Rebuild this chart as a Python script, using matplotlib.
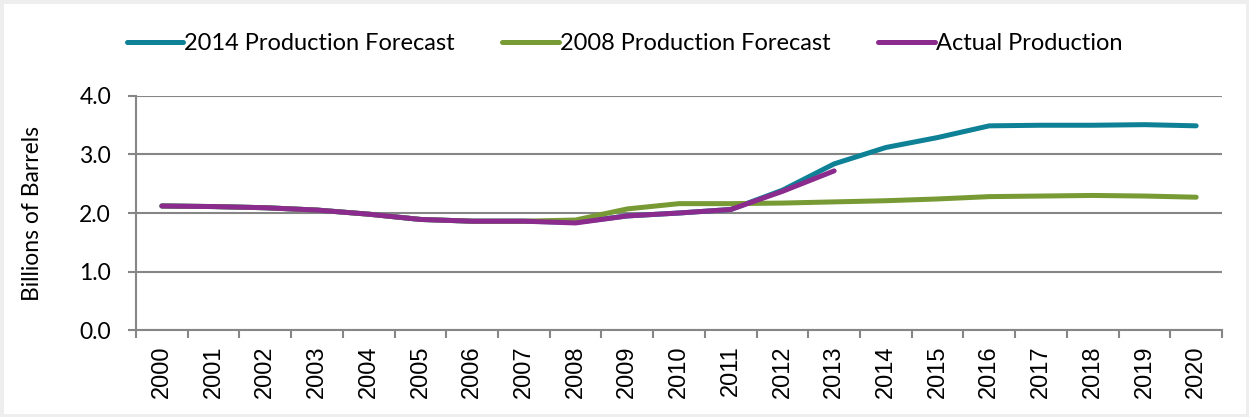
import matplotlib.pyplot as plt
import numpy as np

plt.rcParams['font.family'] = ['Lato', 'DejaVu Sans']

years = [str(y) for y in range(2000, 2021)]
forecast_2014 = [2.12, 2.11, 2.09, 2.05, 1.98, 1.89, 1.86, 1.86, 1.84, 1.95, 2.00, 2.06,
                 2.39, 2.84, 3.12, 3.29, 3.49, 3.50, 3.50, 3.51, 3.49]
forecast_2008 = [2.12, 2.11, 2.09, 2.05, 1.98, 1.89, 1.86, 1.86, 1.88, 2.07, 2.16, 2.16,
                 2.17, 2.19, 2.21, 2.24, 2.28, 2.29, 2.30, 2.29, 2.27]
actual = [2.12, 2.11, 2.09, 2.05, 1.98, 1.89, 1.86, 1.86, 1.83, 1.95, 2.00, 2.06,
          2.37, 2.72]

fig = plt.figure(figsize=(12.49, 4.17), dpi=100)
ax = fig.add_axes([0.1089, 0.2086, 0.8695, 0.5612])

x = np.arange(len(years))
ax.plot(x, forecast_2014, color='#0e8196', lw=3.6, solid_capstyle='round', label='2014 Production Forecast')
ax.plot(x, forecast_2008, color='#779a34', lw=3.6, solid_capstyle='round', label='2008 Production Forecast')
ax.plot(x[:len(actual)], actual, color='#8b2b8e', lw=3.6, solid_capstyle='round', label='Actual Production')

ax.set_xlim(-0.5, len(years) - 0.5)
ax.set_ylim(0, 4)
ax.set_yticks([0, 1, 2, 3, 4])
ax.set_yticklabels(['0.0', '1.0', '2.0', '3.0', '4.0'], fontsize=16.5)
ax.set_xticks(x)
ax.set_xticklabels(years, rotation=90, fontsize=17, family='Liberation Sans')
ax.set_xticks(np.arange(-0.5, len(years)), minor=True)
ax.tick_params(axis='x', which='major', length=0, pad=11)
ax.tick_params(axis='x', which='minor', length=6, color='#868686', width=1.5)
ax.tick_params(axis='y', length=6, color='#868686', width=1.5, pad=12)
ax.yaxis.grid(True, color='#868686', lw=1.5)
ax.set_axisbelow(True)
for s in ['top', 'right']:
    ax.spines[s].set_visible(False)
for s in ['left', 'bottom']:
    ax.spines[s].set_color('#868686')
    ax.spines[s].set_linewidth(1.5)
ax.set_ylabel('Billions of Barrels', fontsize=16.5, labelpad=26)

fig.legend(loc='center', bbox_to_anchor=(0.50, 0.895), ncol=3, frameon=False,
           fontsize=17, handlelength=2.4, columnspacing=2.0, handletextpad=0.05)

fig.patches.append(plt.Rectangle((0, 0), 1, 1, transform=fig.transFigure,
                                 fill=False, edgecolor='#eeeeee', lw=5))
fig.savefig('out.png', dpi=100)
